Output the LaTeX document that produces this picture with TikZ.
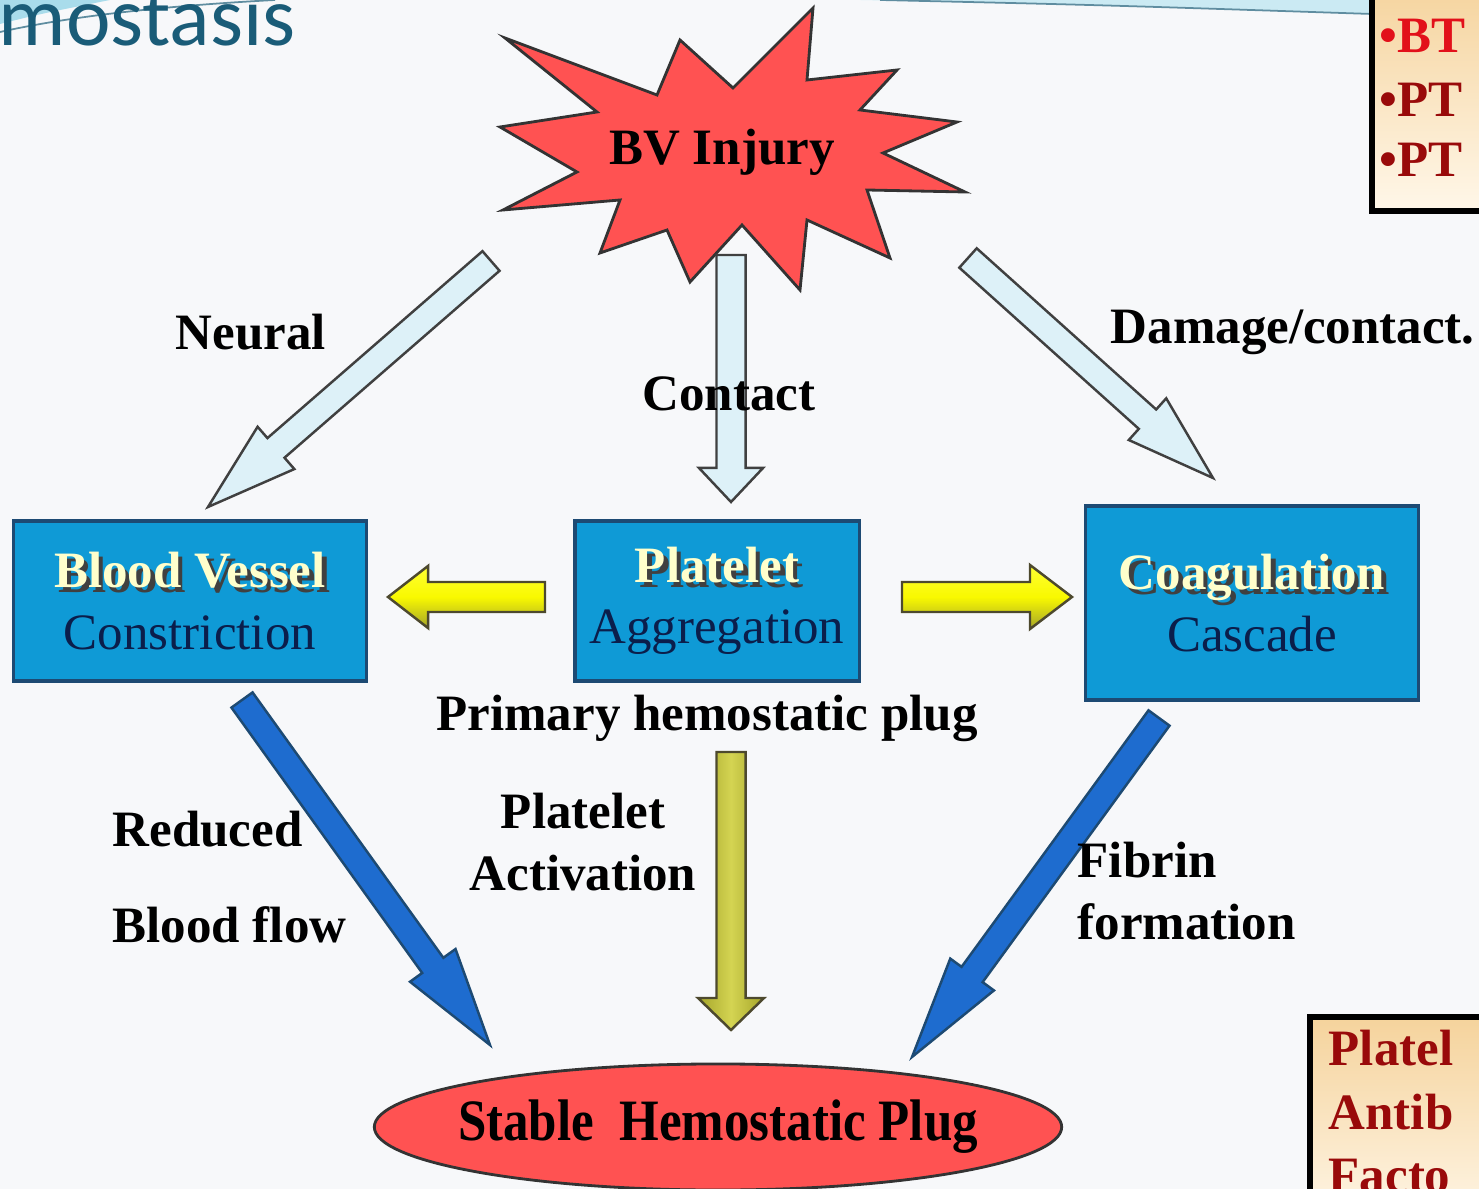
\documentclass[tikz,border=0pt]{standalone}
\usepackage{fontspec}
\setmainfont{Liberation Serif}
\newfontfamily\titlefont{Carlito}
\usetikzlibrary{calc,shapes.geometric}

\definecolor{boxblue}{HTML}{0F9AD6}
\definecolor{boxedge}{HTML}{1D4A73}
\definecolor{paleyel}{HTML}{FFFFCC}
\definecolor{navytxt}{HTML}{0B1E4B}
\definecolor{starred}{HTML}{FF5252}
\definecolor{palearr}{HTML}{DDF1F8}
\definecolor{deepblue}{HTML}{1E6CCF}
\definecolor{olivedark}{HTML}{A5A52A}
\definecolor{olivelight}{HTML}{D4D452}
\definecolor{titleteal}{HTML}{1A5C78}
\definecolor{swoosh}{HTML}{A9DCEB}
\definecolor{darkred}{HTML}{990A0A}
\definecolor{brightred}{HTML}{E2101A}
\definecolor{peach}{HTML}{F5D39C}
\definecolor{cream}{HTML}{FFF7E9}
\definecolor{bgwhite}{HTML}{F7F8FA}

% light yellow title with a dark drop shadow
\newcommand{\shadowtext}[1]{{\color{black!75}\rlap{\hspace{1.3pt}\raisebox{-1.3pt}{#1}}}{\color{paleyel}#1}}

% block arrow: style, tail, tip, shaft half width, head half width, head length
\newcommand{\fatarrow}[6]{%
  \coordinate (hb) at ($(#3)!#6!(#2)$);
  \draw[#1] ($(#2)!#4!90:(#3)$) -- ($(hb)!#4!90:(#3)$) -- ($(hb)!#5!90:(#3)$) -- (#3)
    -- ($(hb)!#5!-90:(#3)$) -- ($(hb)!#4!-90:(#3)$) -- ($(#2)!#4!-90:(#3)$) -- cycle;}

\tikzset{
  box/.style={draw=boxedge, fill=boxblue, line width=0.9pt, align=center, inner sep=0pt,
    font=\fontsize{14.5}{17.4}\selectfont},
  lbl/.style={font=\fontsize{14.5}{17.6}\selectfont\bfseries, inner sep=0pt},
  palearrow/.style={draw=black!75, fill=palearr, line width=0.7pt},
  yelarrow/.style={draw=black!60!olive, top color=yellow!80!white, bottom color=olivedark,
    middle color=yellow!95!olive, line width=0.7pt},
  olivearrow/.style={draw=black!60!olive, left color=olivedark, right color=olivedark,
    middle color=olivelight, line width=0.7pt},
  bluearrow/.style={draw=boxedge, fill=deepblue, line width=0.7pt},
  testbox/.style={draw=black, line width=1.6pt, top color=peach, bottom color=cream},
  testtext/.style={font=\fontsize{14.5}{17.6}\selectfont\bfseries, inner sep=0pt, anchor=west}
}

\begin{document}
\begin{tikzpicture}[x=0.01cm, y=-0.01cm]
\useasboundingbox (0,0) rectangle (1479,1189);
\clip (0,0) rectangle (1479,1189);
\fill[bgwhite] (0,0) rectangle (1479,1189);

% slide decoration
\fill[swoosh] (0,0) -- (0,24) .. controls (40,14) .. (110,0) -- cycle;
\draw[titleteal!70, line width=0.5pt] (0,32) .. controls (90,12) and (200,4) .. (275,0);
\fill[swoosh!60] (860,0) .. controls (1100,5) .. (1372,14) -- (1372,0) -- cycle;
\draw[titleteal!70, line width=0.5pt] (880,0) .. controls (1100,5) .. (1372,14);
\node[anchor=base west, inner sep=0pt, text=titleteal, font=\titlefont\fontsize{24}{28}\selectfont] (title) at (-2,46) {mostasis};

% injury star
\draw[fill=starred, draw=black!80, line width=0.8pt]
  (505,38) -- (657,95) -- (680,40) -- (733,88) -- (813,8) -- (807,80) -- (897,70)
  -- (860,110) -- (957,122) -- (883,153) -- (965,192) -- (867,190) -- (890,258)
  -- (807,220) -- (800,290) -- (742,225) -- (690,282) -- (667,230) -- (600,253)
  -- (620,200) -- (503,210) -- (577,172) -- (500,127) -- (597,112) -- cycle;
\node[lbl] (injury) at (722,152) {BV Injury};

% arrows out of the injury
\coordinate (neuraltail) at (491,261);
\coordinate (neuraltip) at (208,507);
\coordinate (contacttail) at (731,255);
\coordinate (contacttip) at (731,502);
\coordinate (damagetail) at (968,258);
\coordinate (damagetip) at (1213,478);
\fatarrow{palearrow}{neuraltail}{neuraltip}{0.13cm}{0.28cm}{0.9cm}
\fatarrow{palearrow}{contacttail}{contacttip}{0.145cm}{0.32cm}{0.34cm}
\fatarrow{palearrow}{damagetail}{damagetip}{0.13cm}{0.28cm}{0.88cm}

\node[lbl] (neural) at (251,332) {Neural};
\node[lbl] (contact) at (729,394) {Contact};
\node[lbl, anchor=west] (damage) at (1110,332) {Damage/contact.};

% the three responses
\node[box, minimum width=3.52cm, minimum height=1.6cm] (vessel) at (190,601)
  {\shadowtext{\bfseries Blood Vessel}\\{\color{navytxt}Constriction}};
\node[box, minimum width=2.84cm, minimum height=1.6cm] (platelet) at (717,601)
  {\shadowtext{\bfseries Platelet}\\{\color{navytxt}Aggregation}};
\node[box, minimum width=3.33cm, minimum height=1.94cm] (coag) at (1252,603)
  {\shadowtext{\bfseries Coagulation}\\{\color{navytxt}Cascade}};

\coordinate (lefttail) at (545,597);
\coordinate (lefttip) at (388,597);
\coordinate (righttail) at (902,597);
\coordinate (righttip) at (1072,597);
\fatarrow{yelarrow}{lefttail}{lefttip}{0.15cm}{0.31cm}{0.4cm}
\fatarrow{yelarrow}{righttail}{righttip}{0.15cm}{0.32cm}{0.42cm}

\node[lbl] (primary) at (707,718) {Primary hemostatic plug};

% towards the stable plug
\coordinate (activtail) at (731,752);
\coordinate (activtip) at (731,1030);
\coordinate (flowtail) at (242,700);
\coordinate (flowtip) at (490,1045);
\coordinate (fibrintail) at (1159,718);
\coordinate (fibrintip) at (912,1057);
\fatarrow{olivearrow}{activtail}{activtip}{0.145cm}{0.33cm}{0.32cm}
\fatarrow{bluearrow}{flowtail}{flowtip}{0.13cm}{0.28cm}{0.98cm}
\fatarrow{bluearrow}{fibrintail}{fibrintip}{0.13cm}{0.27cm}{1.02cm}

\node[lbl, align=center] (activation) at (583,842) {Platelet\\Activation};
\node[lbl, anchor=west] (reduced) at (112,829) {Reduced};
\node[lbl, anchor=west] (bloodflow) at (112,925) {Blood flow};
\node[lbl, anchor=west, align=left] (fibrin) at (1077,891) {Fibrin\\formation};

\node[draw=black!80, fill=starred, ellipse, line width=0.8pt, inner sep=0pt,
  minimum width=6.87cm, minimum height=1.26cm] (plug) at (718,1127)
  {\makebox[0pt]{\scalebox{1}[1.15]{\fontsize{14.5}{17}\selectfont\bfseries Stable\ \ Hemostatic Plug}}};

% test boxes at the side
\draw[testbox] (1372,-20) rectangle (1530,211);
\node[testtext, text=brightred] (bt) at (1379,36) {•BT};
\node[testtext, text=darkred] (pt) at (1379,100) {•PT};
\node[testtext, text=darkred] (ptt) at (1379,160) {•PT};
\draw[testbox] (1310,1017) rectangle (1530,1230);
\node[testtext, text=darkred] (platel) at (1328,1048) {Platel};
\node[testtext, text=darkred] (antib) at (1328,1112) {Antib};
\node[testtext, text=darkred] (facto) at (1328,1176) {Facto};
\end{tikzpicture}
\end{document}
